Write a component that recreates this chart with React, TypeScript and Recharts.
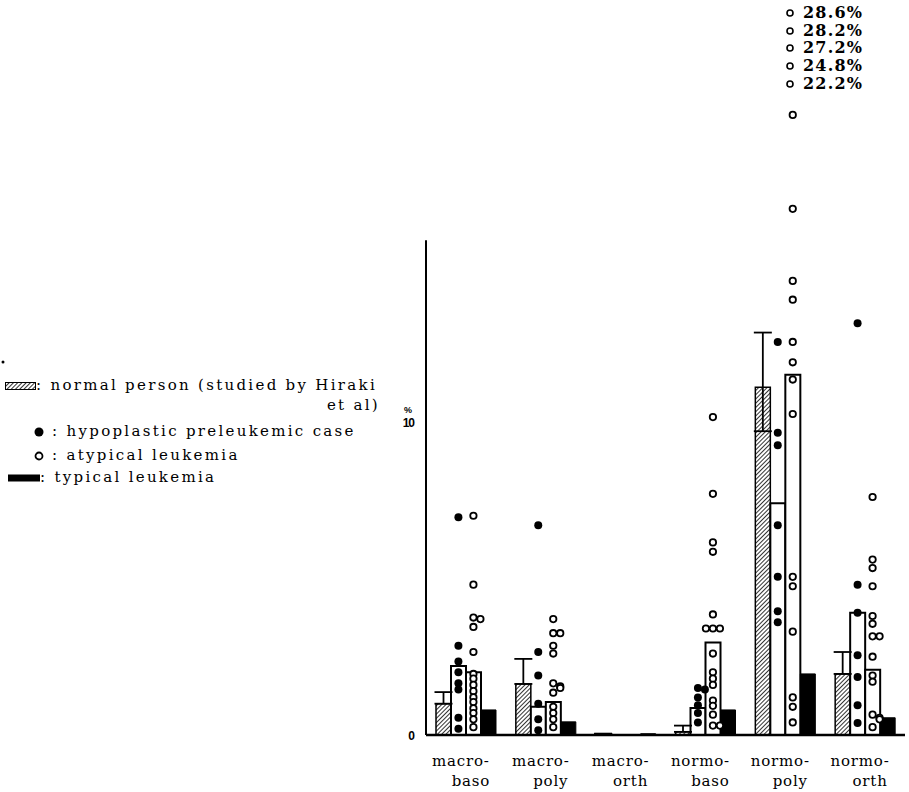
import React from "react";
import { ComposedChart, Bar, Scatter, XAxis, YAxis, ErrorBar, ReferenceLine } from "recharts";

const categories = ["macro-baso", "macro-poly", "macro-orth", "normo-baso", "normo-poly", "normo-orth"];

// group means (%)
const normalMean = [1.0, 1.63, 0.04, 0.1, 11.1, 1.95];
const normalErrLow = [0, 0, 0, 0, 1.4, 0];
const normalErrHigh = [0.37, 0.8, 0, 0.2, 1.75, 0.7];
const hypoMean = [2.2, 0.9, 0, 0.86, 7.4, 3.9];
const atypMean = [2.0, 1.05, 0, 2.95, 11.5, 2.08];
const typicalMean = [0.8, 0.42, 0.04, 0.8, 1.95, 0.55];

// individual cases, one list per category
const hypoCases = [
  [6.95, 2.85, 2.35, 2.0, 1.65, 1.45, 0.55, 0.2],
  [6.7, 2.65, 1.9, 1.0, 0.5, 0.15],
  [],
  [1.5, 1.45, 1.2, 0.95, 0.7, 0.4],
  [12.55, 9.65, 9.25, 6.7, 5.05, 3.95, 3.6],
  [13.15, 4.8, 3.9, 2.55, 1.85, 0.95, 0.38],
];
const atypCases = [
  [7.0, 4.8, 3.75, 3.7, 3.45, 2.65, 1.95, 1.8, 1.6, 1.4, 1.2, 1.05, 0.85, 0.7, 0.5, 0.25],
  [3.7, 3.25, 3.25, 2.85, 2.6, 1.65, 1.55, 1.5, 1.35, 0.9, 0.7, 0.5, 0.25],
  [],
  [10.15, 7.7, 6.15, 5.85, 3.85, 3.4, 3.4, 3.4, 2.6, 2.0, 1.8, 1.6, 1.1, 0.93, 0.65, 0.3, 0.3],
  [19.8, 16.8, 14.5, 13.9, 12.55, 11.9, 11.35, 10.25, 5.05, 4.75, 3.3, 1.2, 0.9, 0.4],
  [7.6, 5.6, 5.33, 4.75, 3.8, 3.55, 3.15, 3.15, 2.5, 1.9, 1.7, 0.65, 0.55, 0.5, 0.25],
];
// atypical cases off the top of the scale (normo-poly)
const offScaleAtyp = [28.6, 28.2, 27.2, 24.8, 22.2];

const yTicks = [0, 10];
const axisTop = 15.8;

const data = categories.map((cat, i) => ({
  cat,
  normal: normalMean[i],
  errLow: normalErrLow[i],
  errHigh: normalErrHigh[i],
  hypo: hypoMean[i],
  atyp: atypMean[i],
  typical: typicalMean[i],
}));

// spread dots that sit at nearly the same value side by side
function toPoints(cases: number[][]) {
  const out: { cat: string; v: number; dx: number }[] = [];
  cases.forEach((list, i) => {
    list.forEach((v, j) => {
      const k = list.slice(0, j).filter((w) => Math.abs(w - v) < 0.1).length;
      const dx = k === 0 ? 0 : k % 2 === 1 ? 7 : -7;
      out.push({ cat: categories[i], v, dx });
    });
  });
  return out;
}
const hypoPoints = toPoints(hypoCases);
const atypPoints = toPoints(atypCases);

const font = "'DejaVu Serif', serif";

function CatTick(props: any) {
  const { x, y, payload } = props;
  const [a, b] = String(payload.value).split("-");
  return (
    <g>
      <text x={x - 5} y={y + 23} textAnchor="middle" fontFamily={font} fontSize={15} letterSpacing={0.8} fill="#000">
        {a}-
      </text>
      <text x={x + 5} y={y + 43} textAnchor="middle" fontFamily={font} fontSize={15} letterSpacing={0.8} fill="#000">
        {b}
      </text>
    </g>
  );
}

function ValTick(props: any) {
  const { x, y, payload } = props;
  return (
    <g fontFamily="'Liberation Sans', sans-serif" fontWeight="bold" fill="#000">
      {payload.value !== 0 && (
        <text x={x - 10} y={y - 9} fontSize={9} textAnchor="middle">%</text>
      )}
      <text x={x - 4} y={y + 5} fontSize={12} textAnchor="end" letterSpacing={-1}>
        {payload.value}
      </text>
    </g>
  );
}

const closedDot = (p: any) => (
  <circle cx={p.cx - 7.5 + p.payload.dx} cy={p.cy} r={4} fill="#000" />
);
const openDot = (p: any) => (
  <circle cx={p.cx + 7.5 + p.payload.dx} cy={p.cy} r={3.2} fill="#fff" stroke="#000" strokeWidth={1.8} />
);

const legendText: React.CSSProperties = {
  position: "absolute",
  fontFamily: font,
  fontSize: 15,
  letterSpacing: 2.3,
  color: "#000",
  whiteSpace: "nowrap",
  lineHeight: "18px",
};

export default function App() {
  return (
    <div style={{ position: "relative", width: 909, height: 792, background: "#fff" }}>
      <style>{"body{margin:0}"}</style>
      <svg width={0} height={0} style={{ position: "absolute" }}>
        <defs>
          <pattern id="hatch" width={3} height={3} patternUnits="userSpaceOnUse" patternTransform="rotate(45)">
            <rect width={3} height={3} fill="#fff" />
            <line x1={0} y1={0} x2={0} y2={3} stroke="#000" strokeWidth={1.6} />
          </pattern>
        </defs>
      </svg>

      <ComposedChart
        width={909}
        height={792}
        data={data}
        margin={{ top: 46, right: 4, bottom: 0, left: 386 }}
        barCategoryGap={10}
        barGap={0}
      >
        <XAxis
          dataKey="cat"
          allowDuplicatedCategory={false}
          height={57}
          axisLine={{ stroke: "#000", strokeWidth: 2.5 }}
          tickLine={false}
          tick={<CatTick />}
          interval={0}
        />
        <XAxis xAxisId="n" type="number" domain={[0, 1]} hide />
        <YAxis
          domain={[0, 22]}
          ticks={yTicks}
          width={40}
          axisLine={false}
          tickLine={false}
          tick={<ValTick />}
        />
        <ReferenceLine
          xAxisId="n"
          segment={[{ x: 0, y: 0 }, { x: 0, y: axisTop }]}
          stroke="#000"
          strokeWidth={2}
        />
        <Bar dataKey="normal" fill="url(#hatch)" stroke="#000" strokeWidth={1.5} isAnimationActive={false}>
          <ErrorBar
            dataKey={(d: any) => [d.errLow, d.errHigh]}
            direction="y"
            width={9}
            stroke="#000"
            strokeWidth={1.8}
            isAnimationActive={false}
          />
        </Bar>
        <Bar dataKey="hypo" fill="#fff" stroke="#000" strokeWidth={2} isAnimationActive={false} />
        <Bar dataKey="atyp" fill="#fff" stroke="#000" strokeWidth={2} isAnimationActive={false} />
        <Bar dataKey="typical" fill="#000" stroke="#000" strokeWidth={1} isAnimationActive={false} />
        <Scatter data={hypoPoints} dataKey="v" shape={closedDot} isAnimationActive={false} />
        <Scatter data={atypPoints} dataKey="v" shape={openDot} isAnimationActive={false} />
      </ComposedChart>

      {/* legend */}
      <svg width={4} height={4} style={{ position: "absolute", left: 1, top: 360 }}>
        <circle cx={2} cy={2} r={1.5} fill="#000" />
      </svg>
      <div style={{ ...legendText, left: 5, top: 376 }}>
        <svg width={31} height={8} style={{ verticalAlign: "middle" }}>
          <rect x={0.5} y={0.5} width={30} height={7} fill="url(#hatch)" stroke="#000" />
        </svg>
        : normal person (studied by Hiraki
      </div>
      <div style={{ ...legendText, right: 909 - 380, top: 396 }}>et al)</div>
      <div style={{ ...legendText, left: 33, top: 422 }}>
        <svg width={12} height={12} style={{ verticalAlign: "middle" }}>
          <circle cx={6} cy={6} r={4.5} fill="#000" />
        </svg>
        {" "}: hypoplastic preleukemic case
      </div>
      <div style={{ ...legendText, left: 33, top: 446 }}>
        <svg width={12} height={12} style={{ verticalAlign: "middle" }}>
          <circle cx={6} cy={6} r={3.5} fill="#fff" stroke="#000" strokeWidth={1.8} />
        </svg>
        {" "}: atypical leukemia
      </div>
      <div style={{ ...legendText, left: 8, top: 468 }}>
        <svg width={32} height={8} style={{ verticalAlign: "middle" }}>
          <rect x={0} y={0.5} width={32} height={7} fill="#000" />
        </svg>
        : typical leukemia
      </div>

      {/* off-scale atypical cases */}
      {offScaleAtyp.map((v, i) => (
        <div
          key={v}
          style={{
            position: "absolute",
            left: 785,
            top: 4 + i * 17.7,
            fontFamily: font,
            fontWeight: "bold",
            fontSize: 16,
            lineHeight: "18px",
            letterSpacing: 1.2,
            color: "#000",
            whiteSpace: "nowrap",
          }}
        >
          <svg width={10} height={10} style={{ marginRight: 8 }}>
            <circle cx={5} cy={5} r={3} fill="#fff" stroke="#000" strokeWidth={1.6} />
          </svg>
          {v.toFixed(1)}%
        </div>
      ))}
    </div>
  );
}
